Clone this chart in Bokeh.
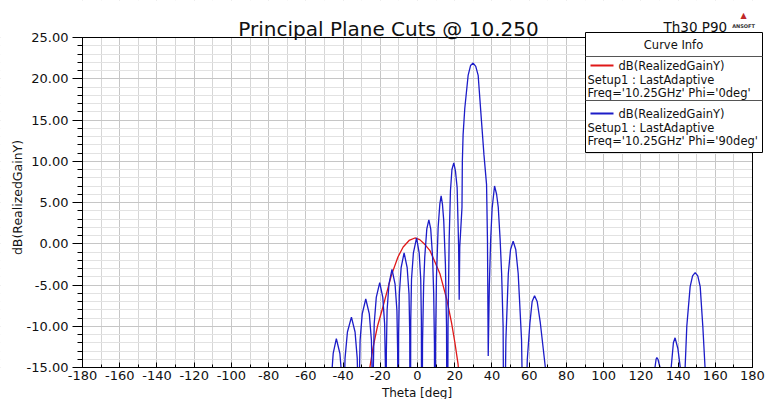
import math
from bokeh.plotting import figure
from bokeh.models import (Label, BoxAnnotation, Arrow, SingleIntervalTicker,
                          NumeralTickFormatter, Range1d)
from bokeh.embed import file_html
from bokeh.resources import INLINE

# ---------------- data ----------------
theta_phi0 = [-26.3, -25.3, -23.9, -21.5, -18.5, -14.0, -10.5, -7.7, -4.5, -1.4,
              1.2, 4.0, 6.6, 8.4, 12.0, 15.8, 18.3, 20.1, 21.8, 22.5]
gain_phi0 = [-16.0, -14.6, -12.6, -10.0, -7.6, -3.8, -1.6, -0.4, 0.4, 0.7,
             0.5, -0.1, -0.8, -1.7, -3.6, -6.8, -9.6, -12.0, -14.6, -16.5]

theta_phi90 = [
    -47.0, -46.73, -46.32, -45.3, -43.6, -41.7, -40.56, -40.1, -39.8,
    -39.46, -38.94, -37.65, -35.5, -33.55, -32.38, -31.91, -31.6,
    -31.3, -30.84, -29.7, -27.8, -25.9, -24.76, -24.3, -24.0,
    -23.7, -23.26, -22.15, -20.3, -18.65, -17.66, -17.26, -17.0,
    -16.74, -16.34, -15.35, -13.7, -12.05, -11.06, -10.66, -10.4,
    -10.14, -9.76, -8.8, -7.2, -5.55, -4.56, -4.16, -3.9,
    -3.63, -3.22, -2.2, -0.5, 0.9, 1.74, 2.08, 2.3,
    2.7, 3.3, 3.9, 5.0, 6.1, 7.1, 8.1, 8.7, 9.1, 9.4,
    9.7, 10.2, 11.1, 12.0, 12.7, 13.4, 14.1, 15.0, 15.6, 16.0,
    16.4, 17.0, 17.7, 18.5, 19.5, 20.4, 21.3, 22.1, 22.4,
    22.7, 23.9, 24.1, 24.5, 25.4, 27.2, 28.5, 29.9, 31.3, 32.6, 34.4, 35.7, 37.1, 37.6, 38.0,
    38.6, 39.3, 40.1, 41.4, 42.5, 43.4, 44.4, 45.2, 46.0, 46.6,
    47.0, 47.5, 48.8, 50.0, 51.4, 52.8, 54.1, 55.9, 56.5, 57.0,
    58.0, 59.0, 60.4, 61.6, 62.9, 64.3, 66.0, 68.7, 69.5,
    127.0, 127.6, 128.2, 128.6, 129.2, 130.3, 131.0,
    135.5, 136.3, 137.5, 138.4, 139.9, 141.2, 142.0,
    143.0, 143.8, 144.7, 146.5, 147.8, 149.2, 150.6, 151.9, 153.3, 154.5, 155.3,
]
gain_phi90 = [
    -35, -21.5, -16.5, -13.3, -11.5, -13.3, -16.5, -21.5, -35,
    -18.9, -13.9, -10.7, -8.9, -10.7, -13.9, -18.9, -35,
    -16.7, -11.7, -8.5, -6.7, -8.5, -11.7, -16.7, -35,
    -14.7, -9.7, -6.5, -4.7, -6.5, -9.7, -14.7, -35,
    -13.1, -8.1, -4.9, -3.1, -4.9, -8.1, -13.1, -35,
    -11.1, -6.1, -2.9, -1.1, -2.9, -6.1, -11.1, -35,
    -9.3, -4.3, -1.1, 0.7, -1.1, -4.3, -9.3, -35,
    -12.0, -5.0, -1.6, 1.8, 2.9, 1.8, -1.6, -6.0, -12.0, -35,
    -12.0, -4.0, 2.0, 4.8, 5.8, 4.8, 2.8, -2.5, -10.0, -35,
    -10.0, 0.4, 6.4, 9.0, 9.8, 8.8, 6.8, -0.4, -6.8,
    -0.4, 4.4, 10.0, 13.2, 16.4, 20.4, 21.6, 21.9, 21.5, 20.4, 14.8, 10.8, 7.2, 0.4, -13.6,
    -5.0, 0.4, 4.3, 7.0, 6.0, 4.4, 0.5, -3.6, -10.0, -35,
    -20.0, -11.6, -3.6, -0.7, 0.3, -0.7, -3.6, -11.6, -20.0, -35,
    -22.0, -14.0, -9.6, -7.0, -6.3, -7.0, -9.6, -15.0, -22.0,
    -18.0, -15.0, -14.0, -13.8, -14.0, -15.0, -18.0,
    -20.0, -15.0, -12.0, -11.4, -12.7, -15.0, -20.0,
    -22.0, -15.0, -10.0, -5.2, -3.9, -3.5, -3.9, -5.2, -10.0, -15.0, -22.0,
]

x_limits = (-180, 180)
y_limits = (-15, 25)
title_text = "Principal Plane Cuts @ 10.250"
corner_text = "Th30 P90"
x_label = "Theta [deg]"
y_label = "dB(RealizedGainY)"
legend_title = "Curve Info"
legend_entries = [
    ["dB(RealizedGainY)", "Setup1 : LastAdaptive", "Freq='10.25GHz' Phi='0deg'"],
    ["dB(RealizedGainY)", "Setup1 : LastAdaptive", "Freq='10.25GHz' Phi='90deg'"],
]

# ---------------- styles / geometry ----------------
FONT = "DejaVu Sans"
RED = "#e01818"
BLUE = "#1c1cc8"
TXT = "#111111"
W, H = 765, 399
# plot-area edges in page pixels
FX0, FX1, FY0, FY1 = 82.0, 752.0, 37.0, 367.0
XS = (x_limits[1] - x_limits[0]) / (FX1 - FX0)
YS = (y_limits[1] - y_limits[0]) / (FY1 - FY0)


def fx(px):
    return x_limits[0] + (px - FX0) * XS


def fy(py):
    return y_limits[1] - (py - FY0) * YS


# the frame covers the whole canvas; the axes sit at fixed locations, so
# every text and the legend box can be drawn without being clipped
p = figure(width=W, height=H,
           x_range=Range1d(fx(0), fx(W)), y_range=Range1d(fy(H), fy(0)),
           output_backend="svg", toolbar_location=None, title=None,
           min_border_left=0, min_border_right=0,
           min_border_top=0, min_border_bottom=0,
           background_fill_color="white", border_fill_color="white",
           outline_line_color=None)

p.line(theta_phi0, gain_phi0, line_color=RED, line_width=1.3)
p.line(theta_phi90, gain_phi90, line_color=BLUE, line_width=1.3)

# axes
p.xaxis.ticker = SingleIntervalTicker(interval=20, num_minor_ticks=2)
p.yaxis.ticker = SingleIntervalTicker(interval=5, num_minor_ticks=5)
p.xaxis.formatter = NumeralTickFormatter(format="0")
p.yaxis.formatter = NumeralTickFormatter(format="0.00")
p.xaxis.bounds = x_limits
p.yaxis.bounds = y_limits
p.xaxis.fixed_location = y_limits[0]
p.yaxis.fixed_location = x_limits[0]

for ax in (p.xaxis[0], p.yaxis[0]):
    ax.level = "overlay"
    ax.axis_line_color = "black"
    ax.major_tick_line_color = "black"
    ax.minor_tick_line_color = "black"
    ax.major_label_text_font = FONT
    ax.major_label_text_font_size = "13px"
    ax.major_label_text_color = TXT

p.xaxis.major_tick_in = 5
p.xaxis.major_tick_out = 0
p.xaxis.minor_tick_in = 3
p.xaxis.minor_tick_out = 0
p.xaxis.major_label_standoff = 3

p.yaxis.major_tick_in = 0
p.yaxis.major_tick_out = 10
p.yaxis.minor_tick_in = 0
p.yaxis.minor_tick_out = 5
p.yaxis.major_label_standoff = 4

# grids
p.xgrid.grid_line_color = "#c6c6c6"
p.xgrid.minor_grid_line_color = "#d6d6d6"
p.ygrid.grid_line_color = "#c6c6c6"
p.ygrid.minor_grid_line_color = "#e2e2e2"

# white covers outside the data area
cover = dict(fill_color="white", fill_alpha=1.0, line_color=None)
p.add_layout(BoxAnnotation(bottom=y_limits[1], **cover))
p.add_layout(BoxAnnotation(top=y_limits[0], **cover))
p.add_layout(BoxAnnotation(right=x_limits[0], **cover))
p.add_layout(BoxAnnotation(left=x_limits[1], **cover))
# plot-area outline
p.add_layout(BoxAnnotation(left=x_limits[0], right=x_limits[1],
                           bottom=y_limits[0], top=y_limits[1],
                           fill_alpha=0.0, line_color="black", line_width=1,
                           line_alpha=1.0))

# axis titles
p.add_layout(Label(x=fx(416.5), y=fy(392), text=x_label, text_font=FONT,
                   text_font_size="12px", text_align="center",
                   text_baseline="middle", text_color=TXT))
p.add_layout(Label(x=fx(17), y=fy(197), text=y_label, text_font=FONT,
                   text_font_size="12.5px", text_align="center",
                   text_baseline="middle", text_color=TXT,
                   angle=math.pi / 2, angle_units="rad"))

# title, corner text, logo
p.add_layout(Label(x=fx(388), y=fy(28), text=title_text, text_font=FONT,
                   text_font_size="20px", text_align="center",
                   text_baseline="alphabetic", text_color=TXT))
p.add_layout(Label(x=fx(663), y=fy(26.5), text=corner_text, text_font=FONT,
                   text_font_size="13.5px", text_align="left",
                   text_baseline="alphabetic", text_color=TXT))
p.add_layout(Label(x=fx(743), y=fy(15), text="\u25B2", text_font=FONT,
                   text_font_size="8px", text_align="center",
                   text_baseline="middle", text_color="#c02828"))
p.add_layout(Label(x=fx(743), y=fy(25.5), text="ANSOFT", text_font=FONT,
                   text_font_size="5px", text_font_style="bold",
                   text_align="center", text_baseline="middle",
                   text_color="#333333"))

# legend box ("Curve Info")
p.add_layout(BoxAnnotation(left=fx(585), right=fx(762), top=fy(32), bottom=fy(152),
                           fill_color="white", fill_alpha=1.0,
                           line_color="black", line_width=1, line_alpha=1.0))
for sep_y in (56, 100):
    p.add_layout(Arrow(end=None, x_start=fx(585), y_start=fy(sep_y),
                       x_end=fx(762), y_end=fy(sep_y),
                       line_color="#555555", line_width=1))
p.add_layout(Label(x=fx(673), y=fy(44), text=legend_title, text_font=FONT,
                   text_font_size="11.5px", text_align="center",
                   text_baseline="middle", text_color=TXT))
for entry, color, y0 in zip(legend_entries, (RED, BLUE), (65, 113)):
    p.add_layout(Arrow(end=None, x_start=fx(590), y_start=fy(y0),
                       x_end=fx(613), y_end=fy(y0),
                       line_color=color, line_width=2))
    p.add_layout(Label(x=fx(618), y=fy(y0), text=entry[0], text_font=FONT,
                       text_font_size="11.5px", text_align="left",
                       text_baseline="middle", text_color=TXT))
    p.add_layout(Label(x=fx(587), y=fy(y0 + 14), text=entry[1], text_font=FONT,
                       text_font_size="11.5px", text_align="left",
                       text_baseline="middle", text_color=TXT))
    p.add_layout(Label(x=fx(587), y=fy(y0 + 27.5), text=entry[2], text_font=FONT,
                       text_font_size="11.5px", text_align="left",
                       text_baseline="middle", text_color=TXT))

open("out.html", "w").write(file_html(p, INLINE))
